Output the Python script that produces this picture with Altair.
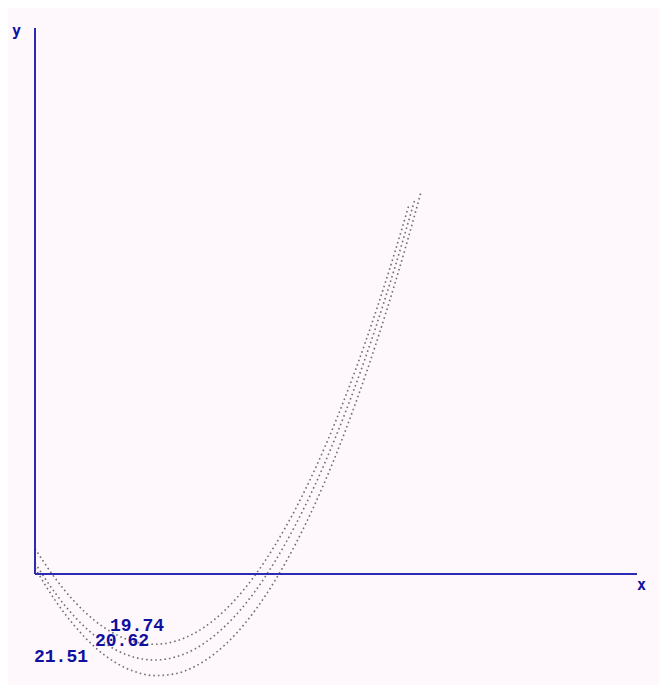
import altair as alt
import pandas as pd

# ---- data (x: pixels right of the y axis, y: pixels above the x axis)
curve_names = ["19.74", "20.62", "21.51"]

x_a = [0, 20, 40, 60, 80, 100, 120, 140, 160, 180, 200, 220, 240, 260, 280, 300, 320, 340, 360, 374]
y_a = [25.4, -4.0, -28.1, -46.8, -60.0, -67.9, -70.3, -67.3, -58.9, -45.1, -25.9, -1.3,
       28.7, 64.1, 104.9, 151.2, 202.8, 259.9, 322.3, 369.3]

x_b = [0, 20, 40, 60, 80, 100, 120, 140, 160, 180, 200, 220, 240, 260, 280, 300, 320, 340, 360, 380]
y_b = [11.0, -18.7, -43.1, -61.9, -75.4, -83.4, -86.0, -83.1, -74.9, -61.1, -42.0, -17.4,
       12.7, 48.1, 89.0, 135.4, 187.2, 244.4, 307.0, 375.1]

x_c = [0, 20, 40, 60, 80, 100, 120, 140, 160, 180, 200, 220, 240, 260, 280, 300, 320, 340, 360, 380, 386]
y_c = [5.9, -26.1, -52.4, -73.2, -88.3, -97.7, -101.6, -99.8, -92.4, -79.4, -60.8, -36.5,
       -6.6, 28.9, 70.0, 116.8, 169.2, 227.2, 290.8, 360.1, 382.0]

label_x = [75, 60, -1]
label_y = [-57, -72, -88]

axis_names = ["x", "y"]
x_axis_end = 602
y_axis_end = 546

# ---- tables
rows = []
for name, xs, ys in zip(curve_names, [x_a, x_b, x_c], [y_a, y_b, y_c]):
    for xv, yv in zip(xs, ys):
        rows.append({"curve": name, "x": xv, "y": yv})
curves = pd.DataFrame(rows)

labels = pd.DataFrame({"text": curve_names, "x": label_x, "y": label_y})

axes = pd.DataFrame({
    "x": [0, 0], "x2": [x_axis_end, 0],
    "y": [0, 0], "y2": [0, y_axis_end],
})
axis_titles = pd.DataFrame({"text": axis_names, "x": [x_axis_end, -23], "y": [-16, 538]})

xs_scale = alt.Scale(domain=[-27, 624], nice=False, zero=False)
ys_scale = alt.Scale(domain=[-111, 566], nice=False, zero=False)

line_color = "#2a2ab4"
text_color = "#1010a0"

curve_layer = alt.Chart(curves).mark_line(
    color="#707070", strokeWidth=1.6, strokeDash=[1.6, 3], interpolate="monotone"
).encode(
    x=alt.X("x:Q", scale=xs_scale, axis=None),
    y=alt.Y("y:Q", scale=ys_scale, axis=None),
    detail="curve:N",
)

axis_layer = alt.Chart(axes).mark_rule(color=line_color, strokeWidth=2).encode(
    x=alt.X("x:Q", scale=xs_scale, axis=None),
    x2="x2:Q",
    y=alt.Y("y:Q", scale=ys_scale, axis=None),
    y2="y2:Q",
)

label_layer = alt.Chart(labels).mark_text(
    align="left", baseline="alphabetic", font="Liberation Mono", fontWeight="bold",
    fontSize=18, color=text_color
).encode(
    x=alt.X("x:Q", scale=xs_scale, axis=None),
    y=alt.Y("y:Q", scale=ys_scale, axis=None),
    text="text:N",
)

title_layer = alt.Chart(axis_titles).mark_text(
    align="left", baseline="alphabetic", font="DejaVu Sans Mono", fontWeight="bold",
    fontSize=15, color=text_color
).encode(
    x=alt.X("x:Q", scale=xs_scale, axis=None),
    y=alt.Y("y:Q", scale=ys_scale, axis=None),
    text="text:N",
)

chart = alt.layer(curve_layer, axis_layer, label_layer, title_layer).properties(
    width=651, height=677, background="#fef8fc", padding=0,
    autosize=alt.AutoSizeParams(type="none"),
).configure_view(stroke=None)

chart.save("out.html", embed_options={"renderer": "svg", "actions": False})
